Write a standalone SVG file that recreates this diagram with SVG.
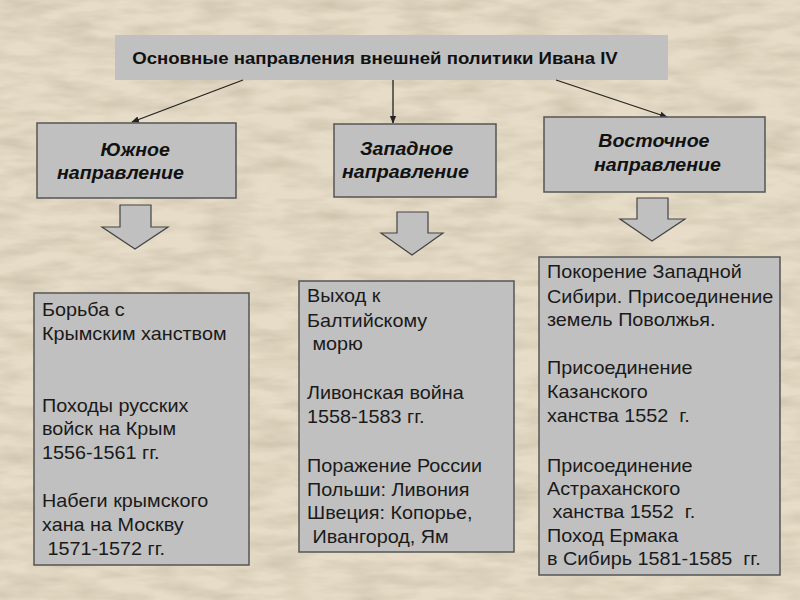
<svg xmlns="http://www.w3.org/2000/svg" width="800" height="600" viewBox="0 0 800 600">
<defs>
<filter id="tex" x="0" y="0" width="100%" height="100%">
<feTurbulence type="fractalNoise" baseFrequency="0.02 0.08" numOctaves="3" seed="4" result="n"/>
<feColorMatrix in="n" type="matrix" values="0 0 0 0 0.55  0 0 0 0 0.48  0 0 0 0 0.36  0 0 0 -1.2 0.8" result="c"/>
<feComposite in="c" in2="SourceGraphic" operator="over"/>
</filter>
<marker id="ah" viewBox="0 0 10 10" refX="9" refY="5" markerWidth="6" markerHeight="6" orient="auto">
<path d="M0,1 L10,5 L0,9 z" fill="#222"/>
</marker>
</defs>
<style>
.box{fill:#c0c0c0;stroke:#555;stroke-width:1.5}
.title{font-family:"Liberation Sans",Arial,sans-serif;font-weight:bold;font-size:17px;fill:#111}
.hd{font-family:"Liberation Sans",Arial,sans-serif;font-weight:bold;font-style:italic;font-size:18.5px;fill:#111}
.tx{font-family:"Liberation Sans",Arial,sans-serif;font-size:18px;fill:#1a1a1a}
.con{stroke:#222;stroke-width:1.3;fill:none}
.barrow{fill:#c0c0c0;stroke:#444;stroke-width:1.2}
</style>
<rect x="0" y="0" width="800" height="600" fill="#e6dcc7" filter="url(#tex)"/>

<g id="title">
<rect x="115" y="35" width="553" height="45" fill="#c0c0c0"/>
<text class="title" transform="translate(375,0) scale(1.095,1)" x="0" y="64" text-anchor="middle">Основные направления внешней политики Ивана IV</text>
</g>

<g id="connectors">
<line class="con" x1="243" y1="80" x2="132" y2="122" marker-end="url(#ah)"/>
<line class="con" x1="393" y1="80" x2="393" y2="123" marker-end="url(#ah)"/>
<line class="con" x1="556" y1="80" x2="667" y2="117" marker-end="url(#ah)"/>
<path class="barrow" d="M120,205 L151,205 L151,227 L168,227 L135,249 L102,227 L120,227 Z"/>
<path class="barrow" d="M397,212 L428,212 L428,233 L443,233 L412,255 L381,233 L397,233 Z"/>
<path class="barrow" d="M637,198 L668,198 L668,219 L685,219 L652,241 L620,219 L637,219 Z"/>
</g>

<g id="south">
<rect class="box" x="37" y="123" width="199" height="75"/>
<g transform="translate(57,0) scale(1.06,1)">
<text class="hd" x="41" y="156">Южное</text>
<text class="hd" x="0" y="179">направление</text>
</g>
</g>

<g id="west">
<rect class="box" x="334" y="124" width="162" height="73"/>
<g transform="translate(342,0) scale(1.06,1)">
<text class="hd" x="17" y="155">Западное</text>
<text class="hd" x="0" y="178">направление</text>
</g>
</g>

<g id="east">
<rect class="box" x="544" y="117" width="221" height="75"/>
<g transform="translate(594,0) scale(1.06,1)">
<text class="hd" x="4" y="147">Восточное</text>
<text class="hd" x="0" y="171">направление</text>
</g>
</g>

<g id="south-detail">
<rect class="box" x="34" y="293" width="215" height="272"/>
<text class="tx" transform="translate(42,0) scale(1.1,1)" xml:space="preserve"><tspan x="0" y="316">Борьба с</tspan><tspan x="0" y="340">Крымским ханством</tspan><tspan x="0" y="412">Походы русских</tspan><tspan x="0" y="435">войск на Крым</tspan><tspan x="0" y="459">1556-1561 гг.</tspan><tspan x="0" y="507">Набеги крымского</tspan><tspan x="0" y="531">хана на Москву</tspan><tspan x="0" y="555"> 1571-1572 гг.</tspan></text>
</g>

<g id="west-detail">
<rect class="box" x="299" y="281" width="215" height="271"/>
<text class="tx" transform="translate(307,0) scale(1.1,1)" xml:space="preserve"><tspan x="0" y="302">Выход к</tspan><tspan x="0" y="327">Балтийскому</tspan><tspan x="0" y="350"> морю</tspan><tspan x="0" y="399">Ливонская война</tspan><tspan x="0" y="423">1558-1583 гг.</tspan><tspan x="0" y="472">Поражение России</tspan><tspan x="0" y="496">Польши: Ливония</tspan><tspan x="0" y="519">Швеция: Копорье,</tspan><tspan x="0" y="543"> Ивангород, Ям</tspan></text>
</g>

<g id="east-detail">
<rect class="box" x="539" y="257" width="241" height="318"/>
<text class="tx" transform="translate(547,0) scale(1.1,1)" xml:space="preserve"><tspan x="0" y="278">Покорение Западной</tspan><tspan x="0" y="303">Сибири. Присоединение</tspan><tspan x="0" y="326">земель Поволжья.</tspan><tspan x="0" y="374">Присоединение</tspan><tspan x="0" y="398">Казанского</tspan><tspan x="0" y="422">ханства 1552  г.</tspan><tspan x="0" y="472">Присоединение</tspan><tspan x="0" y="495">Астраханского</tspan><tspan x="0" y="518"> ханства 1552  г.</tspan><tspan x="0" y="542">Поход Ермака</tspan><tspan x="0" y="565">в Сибирь 1581-1585  гг.</tspan></text>
</g>
</svg>
